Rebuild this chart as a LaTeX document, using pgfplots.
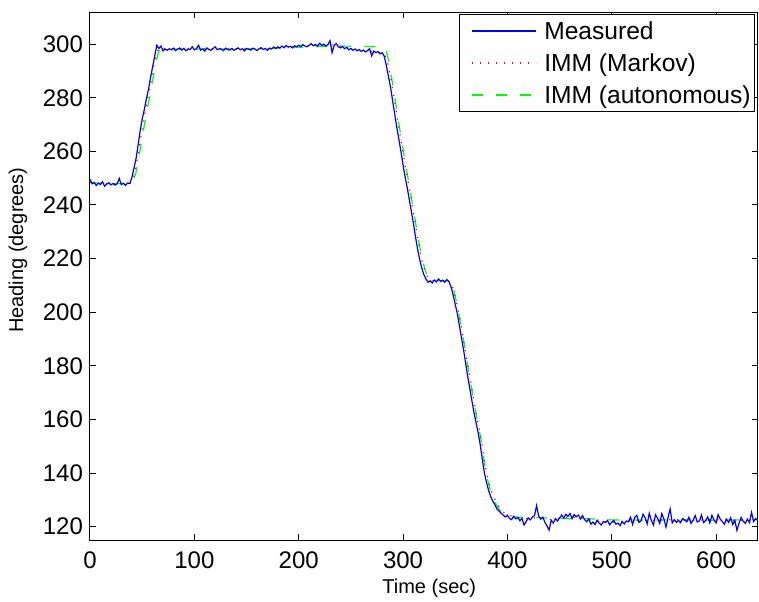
\documentclass[border=0pt]{standalone}
\usepackage{fontspec}
\setmainfont{Liberation Sans}
\usepackage{pgfplots}
\usepackage{pgfplotstable}
\pgfplotsset{compat=1.18}

\pgfplotstableread{
t h
0 249.6
2 247.9
4 248.4
6 247.3
8 248.1
10 247.6
12 248.7
14 247.0
16 247.8
18 248.3
20 247.5
22 248.0
24 247.4
26 247.9
28 249.9
30 247.6
32 248.1
34 247.3
36 248.2
38 248.0
40 250.0
42 253.5
44 257.0
46 262.0
48 267.5
50 272.0
52 275.5
54 279.5
56 283.0
58 287.5
60 291.5
62 295.5
64 299.6
66 298.4
68 299.3
70 297.5
72 298.2
74 297.7
76 298.3
78 297.9
80 298.5
82 297.6
84 298.1
86 298.6
88 297.8
90 298.4
92 297.5
94 298.2
96 298.0
98 299.0
100 297.9
102 298.3
104 299.6
106 297.8
108 298.2
110 297.4
112 298.6
114 298.0
116 297.7
118 298.4
120 299.0
122 297.9
124 298.3
126 298.1
128 297.6
130 298.5
132 298.0
134 297.8
136 298.4
138 297.7
140 298.2
142 298.6
144 297.9
146 298.3
148 297.5
150 298.4
152 298.1
154 297.8
156 298.5
158 298.2
160 297.6
162 298.3
164 298.7
166 298.0
168 298.4
170 297.7
172 298.5
174 298.2
176 298.9
178 298.4
180 299.0
182 298.5
184 299.3
186 298.7
188 299.5
190 298.9
192 299.2
194 298.6
196 299.4
198 299.0
200 299.6
202 299.1
204 299.8
206 299.3
208 299.0
210 299.6
212 300.2
214 299.4
216 299.9
218 299.2
220 300.3
222 299.5
224 300.0
226 299.3
228 299.8
230 301.3
232 296.8
234 299.6
236 300.2
238 299.0
240 298.6
242 299.1
244 298.3
246 298.8
248 297.9
250 298.4
252 297.7
254 298.2
256 297.5
258 298.0
260 297.3
262 297.8
264 297.1
266 297.6
268 298.3
270 295.6
272 297.4
274 296.9
276 297.2
278 296.4
280 296.8
282 295.5
284 292.0
286 288.0
288 284.0
290 279.0
292 274.0
294 269.0
296 264.5
298 260.0
300 255.0
302 250.5
304 246.5
306 242.0
308 237.5
310 233.0
312 228.0
314 223.5
316 219.5
318 216.5
320 214.0
322 212.3
324 211.2
326 211.7
328 210.9
330 212.0
332 211.3
334 212.4
336 211.5
338 211.9
340 211.2
342 212.2
344 211.4
346 209.5
348 206.5
350 203.0
352 199.5
354 195.0
356 190.5
358 186.0
360 181.0
362 176.0
364 171.5
366 167.0
368 162.5
370 158.8
372 155.0
374 150.5
376 145.0
378 140.0
380 136.5
382 133.5
384 131.2
386 129.5
388 128.2
390 126.6
392 125.8
394 125.0
396 124.3
398 123.6
400 124.2
402 123.1
404 122.6
406 123.8
408 122.9
410 123.4
412 122.2
414 123.0
416 120.6
418 121.9
420 123.2
422 122.5
424 123.6
426 124.1
428 127.8
430 124.0
432 122.8
434 123.5
436 121.6
438 120.2
440 118.7
442 122.4
444 121.3
446 123.0
448 122.1
450 123.2
452 124.3
454 123.2
456 124.6
458 123.8
460 124.9
462 123.0
464 124.5
466 123.7
468 124.3
470 122.8
472 124.1
474 122.6
476 121.8
478 122.9
480 120.9
482 121.7
484 120.8
486 122.4
488 121.3
490 120.6
492 121.9
494 121.5
496 122.3
498 120.7
500 121.6
502 122.3
504 120.9
506 121.3
508 120.4
510 121.9
512 121.0
514 122.1
516 121.8
518 123.5
520 120.8
522 123.4
524 124.2
526 121.6
528 122.1
530 124.6
532 123.3
534 121.0
536 125.0
538 122.3
540 120.6
542 124.4
544 123.1
546 121.2
548 124.8
550 122.9
552 119.8
554 123.4
556 126.6
558 121.4
560 122.6
562 121.6
564 122.3
566 121.5
568 123.0
570 122.4
572 121.8
574 123.5
576 121.2
578 122.4
580 124.1
582 121.7
584 122.1
586 124.3
588 121.5
590 122.2
592 123.6
594 121.4
596 124.2
598 122.5
600 121.4
602 124.5
604 122.8
606 121.9
608 120.9
610 122.8
612 121.6
614 123.3
616 120.8
618 122.3
620 118.6
622 121.2
624 123.4
626 122.0
628 121.2
630 122.8
632 121.5
634 125.3
636 121.9
638 123.0
640 122.4
}\measured

\pgfplotstableread{
t h
0 248.5
10 248.0
20 247.8
30 248.0
38 248.0
40 248.5
42 251.0
44 254.5
46 258.5
48 263.5
50 268.5
52 273.0
54 277.0
56 281.0
58 285.0
60 289.5
62 293.5
64 297.0
66 298.5
70 298.3
80 298.1
100 298.2
120 298.3
140 298.1
160 298.2
180 298.6
200 299.2
220 299.6
230 299.8
240 299.2
250 298.3
260 297.7
270 297.2
280 296.8
283 296.0
285 293.5
287 289.5
289 285.5
291 281.0
293 276.0
295 271.0
297 266.5
299 262.0
301 257.0
303 252.5
305 248.5
307 244.0
309 239.5
311 235.0
313 230.0
315 225.5
317 221.5
319 218.0
321 215.5
323 213.5
325 212.2
330 211.6
340 211.7
345 211.5
347 210.0
349 207.5
351 204.0
353 200.5
355 196.5
357 192.0
359 187.5
361 183.0
363 178.0
365 173.5
367 169.0
369 164.5
371 160.5
373 156.5
375 152.5
377 147.5
379 142.5
381 138.5
383 135.5
385 133.0
387 131.0
389 129.5
391 128.0
393 127.0
395 126.0
397 125.2
400 124.4
410 123.3
420 123.0
430 123.4
440 122.6
450 123.0
460 123.6
470 123.4
480 122.4
500 121.6
520 122.2
540 122.4
560 122.6
580 122.4
600 122.6
620 122.3
640 122.5
}\markov

\pgfplotstableread{
t h
0 248.3
20 248.0
40 248.0
42 249.5
44 252.0
46 256.0
48 260.5
50 265.0
52 269.5
54 274.0
56 278.0
58 282.0
60 286.5
62 290.5
64 294.5
66 297.5
68 298.4
80 298.2
120 298.2
160 298.3
180 298.5
200 298.8
220 299.1
240 299.3
260 299.2
275 299.0
283 298.5
285 296.0
287 292.0
289 287.5
291 283.0
293 278.0
295 273.0
297 268.0
299 263.5
301 258.5
303 254.0
305 249.5
307 245.0
309 240.5
311 236.0
313 231.0
315 226.5
317 222.5
319 219.0
321 216.0
323 214.0
325 212.5
330 211.8
340 211.8
346 211.6
348 209.5
350 206.0
352 202.5
354 198.5
356 194.0
358 189.5
360 185.0
362 180.0
364 175.5
366 171.0
368 166.5
370 162.0
372 158.0
374 154.0
376 149.0
378 144.0
380 139.5
382 136.0
384 133.2
386 131.0
388 129.2
390 127.8
392 126.6
394 125.7
396 125.0
400 124.2
410 123.5
430 123.3
450 123.0
480 122.9
500 122.5
540 122.5
600 122.4
640 122.6
}\autonomous

\begin{document}
\begin{tikzpicture}
\begin{axis}[
  scale only axis,
  width=333.9pt, height=264pt,
  xmin=0, xmax=640, ymin=115, ymax=312,
  xtick={0,100,...,600},
  ytick={120,140,...,300},
  tick align=inside,
  major tick length=3pt,
  axis line style={line width=0.5pt},
  every tick/.style={black, line width=0.5pt},
  /pgf/number format/assume math mode=true,
  tick label style={font=\fontsize{12}{14}\selectfont},
  xticklabel style={yshift=-2.5pt},
  xlabel={Time (sec)},
  ylabel={Heading (degrees)},
  label style={font=\fontsize{10}{12}\selectfont},
  xlabel style={at={(axis description cs:0.508,0)}, anchor=center, yshift=-24pt},
  ylabel style={at={(axis description cs:0,0.549)}, anchor=center, yshift=36pt},
  legend cell align=left,
  legend image code/.code={\path (0pt,0pt); \draw[#1] (6pt,0pt) -- (38pt,0pt); \path (40pt,0pt);},
  legend style={at={(1,1)}, anchor=north east, xshift=-1.3pt, yshift=-1pt,
    draw=black, line width=0.5pt, fill=white,
    font=\fontsize{12.3}{14}\selectfont,
    inner xsep=0pt, inner ysep=1.5pt, row sep=2.5pt,
    nodes={text height=10pt, text depth=1.5pt, inner xsep=2pt, inner ysep=1pt}},
]
\addlegendimage{blue, line width=0.6pt}
\addlegendentry{Measured}
\addlegendimage{red, line width=0.6pt, dash pattern=on 0.6pt off 3.4pt}
\addlegendentry{IMM (Markov)}
\addlegendimage{green, line width=0.6pt, dash pattern=on 5.5pt off 6.5pt}
\addlegendentry{IMM (autonomous)}

\addplot[forget plot, green, line width=0.6pt, dash pattern=on 5.5pt off 6.5pt] table[x=t,y=h] {\autonomous};
\addplot[forget plot, red, line width=0.6pt, dash pattern=on 0.6pt off 3.4pt] table[x=t,y=h] {\markov};
\addplot[forget plot, blue, line width=0.6pt] table[x=t,y=h] {\measured};
\end{axis}
\pgfresetboundingbox
\path (-45pt,-30.5pt) rectangle (334.5pt,270pt);
\end{tikzpicture}
\end{document}
